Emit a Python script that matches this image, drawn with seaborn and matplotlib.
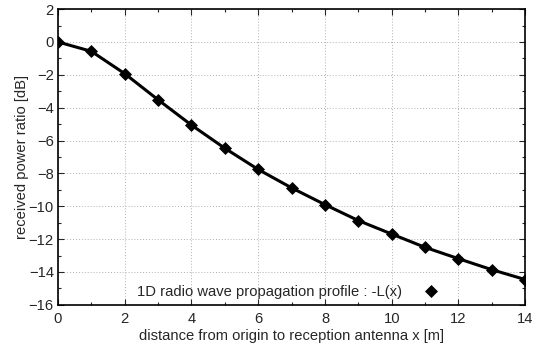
import numpy as np
import pandas as pd
import seaborn as sns
import matplotlib.pyplot as plt
from matplotlib.ticker import MultipleLocator

distance = [0, 1, 2, 3, 4, 5, 6, 7, 8, 9, 10, 11, 12, 13, 14]
power_db = [0.0, -0.57, -1.93, -3.52, -5.06, -6.47, -7.76, -8.88, -9.9,
            -10.87, -11.69, -12.5, -13.19, -13.86, -14.46]
legend_label = '1D radio wave propagation profile : -L(x)'

df = pd.DataFrame({'x': distance, 'L': power_db})

sns.set_style('ticks')
plt.rcParams['font.family'] = ['Liberation Sans', 'DejaVu Sans']

fig, ax = plt.subplots(figsize=(5.42, 3.5), dpi=100)
fig.subplots_adjust(left=0.107, right=0.969, top=0.974, bottom=0.129)

sns.lineplot(data=df, x='x', y='L', ax=ax, color='black', linewidth=2.2)
sns.scatterplot(data=df, x='x', y='L', ax=ax, color='black', marker='D',
                s=44, edgecolor='black', linewidth=0, zorder=5, label=legend_label)

ax.set_xlim(0, 14)
ax.set_ylim(-16, 2)
ax.xaxis.set_major_locator(MultipleLocator(2))
ax.xaxis.set_minor_locator(MultipleLocator(1))
ax.yaxis.set_major_locator(MultipleLocator(2))
ax.yaxis.set_minor_locator(MultipleLocator(1))
ax.tick_params(which='both', direction='in', top=True, right=True, labelsize=10.6)
ax.tick_params(axis='x', pad=5)
ax.tick_params(axis='y', pad=3)
ax.tick_params(which='major', length=4, width=0.8)
ax.tick_params(which='minor', length=2.5, width=0.8)
ax.grid(True, which='major', linestyle=(0, (1, 2)), color='#b0b0b0', linewidth=0.7)
for s in ax.spines.values():
    s.set_linewidth(1.2)
    s.set_color('black')

ax.set_xlabel('distance from origin to reception antenna x [m]', fontsize=10.6, labelpad=2)
ax.set_ylabel('received power ratio [dB]', fontsize=10.6, labelpad=0)

ax.legend(loc='lower center', bbox_to_anchor=(0.5, -0.01), frameon=False, fontsize=10.6,
          markerfirst=False, handletextpad=1.0, borderaxespad=0.2, scatteryoffsets=[0.5])

fig.savefig('out.png', dpi=100)
